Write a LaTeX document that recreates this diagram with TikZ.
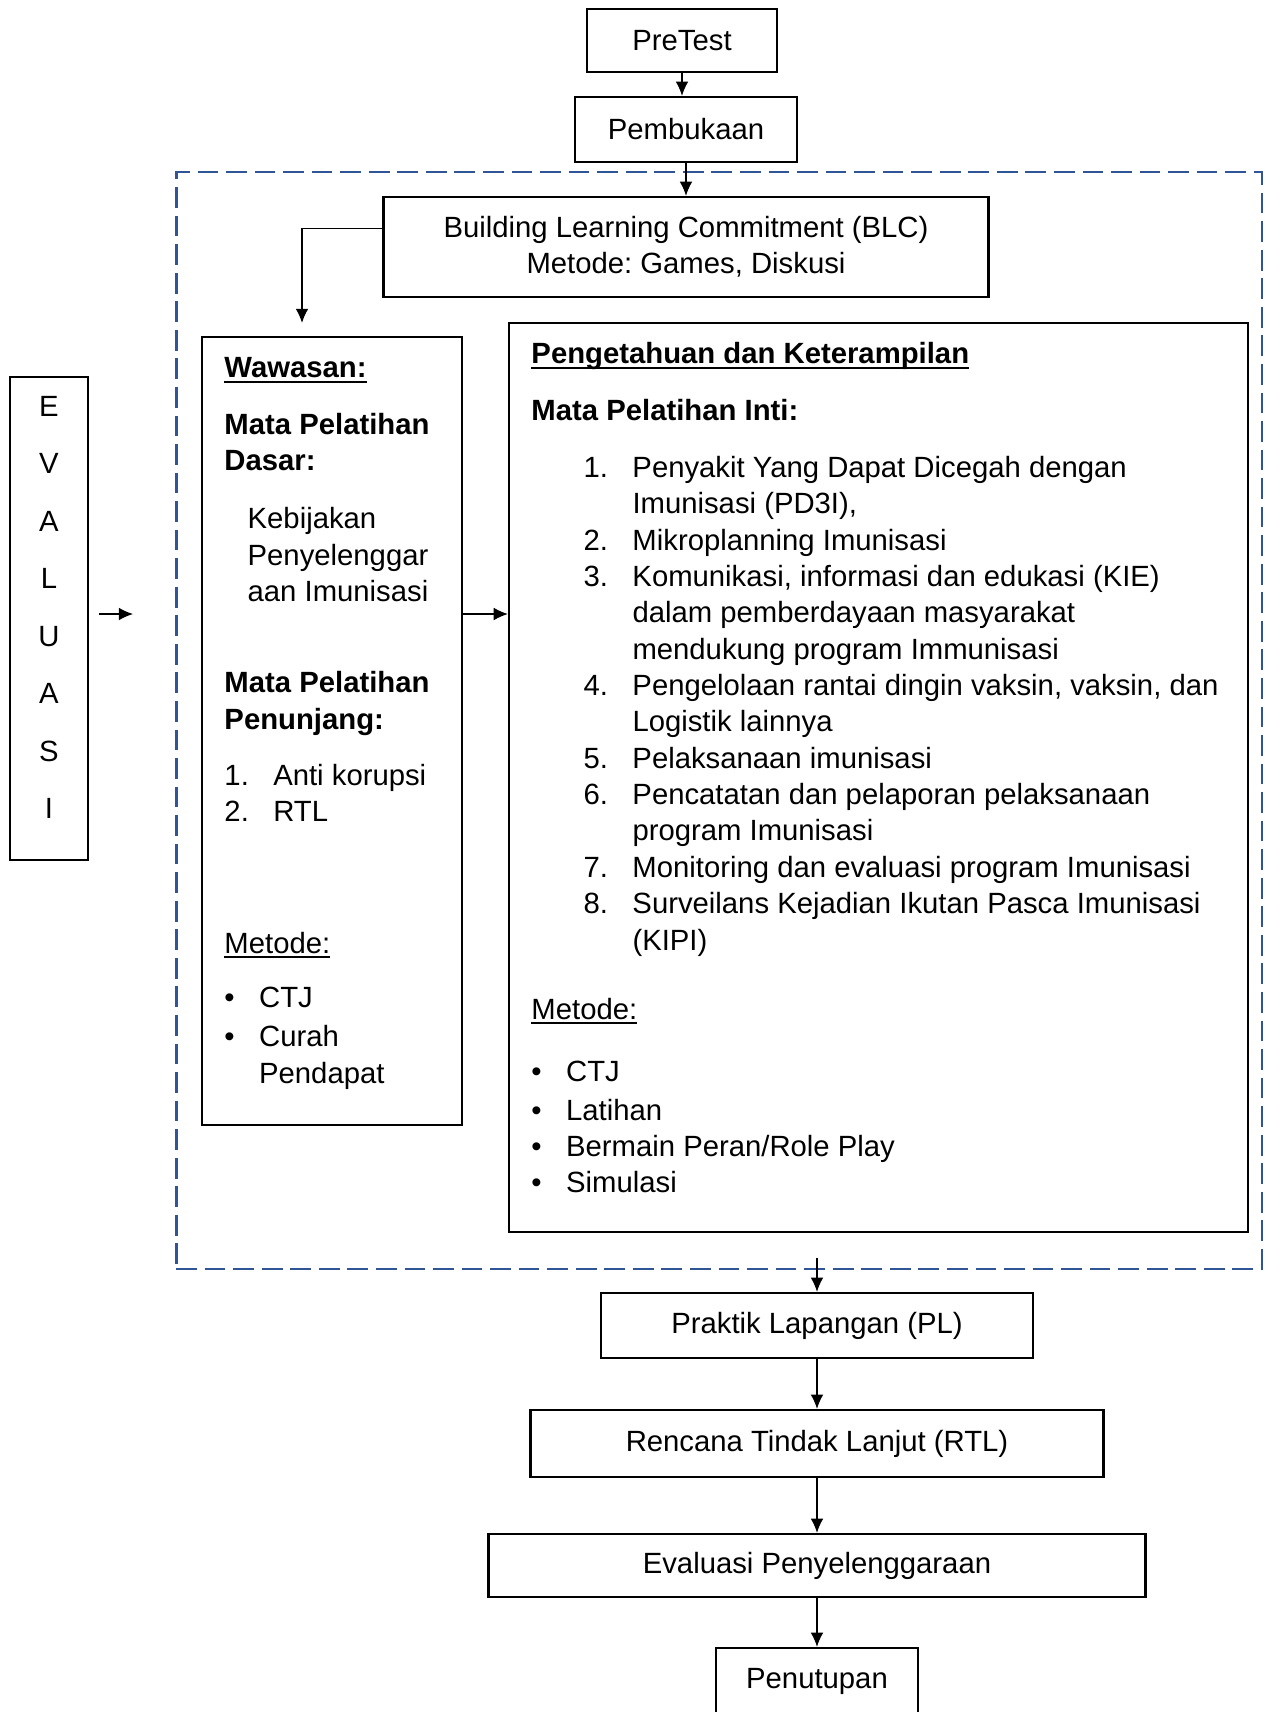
\documentclass[tikz,border=0pt]{standalone}
\usepackage{fontspec}
\setmainfont{Liberation Sans}
\usetikzlibrary{arrows.meta}
\frenchspacing

\definecolor{frameblue}{RGB}{47,85,151}
\newsavebox{\ulbox}
\newcommand{\uln}[1]{\sbox\ulbox{#1}\rlap{\rule[-2pt]{\wd\ulbox}{0.8pt}}\usebox\ulbox}
\newcommand{\itemnum}[1]{\makebox[20pt][l]{#1}}
\newcommand{\itembul}{\makebox[14.2pt][l]{\textbullet}}

\begin{document}
\begin{tikzpicture}[x=0.0144cm, y=-0.0144cm,
  every node/.style={font=\fontsize{12}{14.9}\selectfont, inner sep=0pt},
  box/.style={draw, line width=1pt},
  arr/.style={-{Latex[length=5.8pt, width=5.2pt]}, line width=0.5pt},
  dashframe/.style={draw=frameblue, line width=1.1pt, dash pattern=on 8.5pt off 3.2pt}]
  \useasboundingbox (0, 0) rectangle (1264, 1712);

  \node[box, minimum width=2.736cm, minimum height=0.907cm]
    (PreTest) at (682, 40.5) {PreTest};

  \node[box, minimum width=3.197cm, minimum height=0.936cm]
    (Buka) at (686, 129.5) {Pembukaan};

  \node[dashframe, minimum width=15.638cm, minimum height=15.797cm]
    (Frame) at (719, 720.5) {};

  \node[box, minimum width=8.712cm, minimum height=1.44cm, align=center]
    (BLC) at (686, 247)
    {Building Learning Commitment (BLC)\\
    Metode: Games, Diskusi};

  \node[box, minimum width=1.123cm, minimum height=6.955cm]
    (Evl) at (49, 618.5) {};

  \node[align=center, font=\fontsize{12}{23.55}\selectfont]
    (EvlText) at (49, 607.5)
    {E\\V\\A\\L\\U\\A\\S\\I};

  \node[box, minimum width=3.744cm, minimum height=11.347cm]
    (Waw) at (332, 731) {};

  \node[anchor=north west, align=left]
    (WawText) at (224, 357)
    {\uln{\textbf{Wawasan:}}\\[8.2pt]
    \textbf{Mata Pelatihan}\\
    \textbf{Dasar:}\\[9pt]
    \hspace*{9.5pt}Kebijakan\\
    \hspace*{9.5pt}Penyelenggar\\
    \hspace*{9.5pt}aan Imunisasi\\[22.6pt]
    \textbf{Mata Pelatihan}\\
    \textbf{Penunjang:}\\[8.2pt]
    \itemnum{1.}Anti korupsi\\
    \itemnum{2.}RTL\\[39pt]
    \uln{Metode:}\\[7.4pt]
    \itembul CTJ\\[1pt]
    \itembul Curah\\
    \hspace*{14.2pt}Pendapat};

  \node[box, minimum width=10.642cm, minimum height=13.09cm]
    (Pk) at (878.5, 777.5) {};

  \node[anchor=north west, align=left]
    (PkText) at (531, 342)
    {\uln{\textbf{Pengetahuan dan Keterampilan}}\\[8.2pt]
    \textbf{Mata Pelatihan Inti:}\\[8.6pt]
    \hspace*{21.4pt}\itemnum{1.}Penyakit Yang Dapat Dicegah dengan\\
    \hspace*{41.4pt}Imunisasi (PD3I),\\
    \hspace*{21.4pt}\itemnum{2.}Mikroplanning Imunisasi\\
    \hspace*{21.4pt}\itemnum{3.}Komunikasi, informasi dan edukasi (KIE)\\
    \hspace*{41.4pt}dalam pemberdayaan masyarakat\\
    \hspace*{41.4pt}mendukung program Immunisasi\\
    \hspace*{21.4pt}\itemnum{4.}Pengelolaan rantai dingin vaksin, vaksin, dan\\
    \hspace*{41.4pt}Logistik lainnya\\
    \hspace*{21.4pt}\itemnum{5.}Pelaksanaan imunisasi\\
    \hspace*{21.4pt}\itemnum{6.}Pencatatan dan pelaporan pelaksanaan\\
    \hspace*{41.4pt}program Imunisasi\\
    \hspace*{21.4pt}\itemnum{7.}Monitoring dan evaluasi program Imunisasi\\
    \hspace*{21.4pt}\itemnum{8.}Surveilans Kejadian Ikutan Pasca Imunisasi\\
    \hspace*{41.4pt}(KIPI)\\[13.5pt]
    \uln{Metode:}\\[10.5pt]
    \itembul CTJ\\[1pt]
    \itembul Latihan\\
    \itembul Bermain Peran/Role Play\\
    \itembul Simulasi};

  \node[box, minimum width=6.221cm, minimum height=0.936cm]
    (PL) at (817, 1325.5) {Praktik Lapangan (PL)};

  \node[box, minimum width=8.251cm, minimum height=0.965cm]
    (RTL) at (817, 1443.5) {Rencana Tindak Lanjut (RTL)};

  \node[box, minimum width=9.461cm, minimum height=0.907cm]
    (EvalP) at (817, 1565.5) {Evaluasi Penyelenggaraan};

  \node[box, minimum width=2.909cm, minimum height=0.95cm]
    (Tutup) at (817, 1681) {Penutupan};

  \coordinate (EvlTip) at (133, 614);

  \draw[arr] (PreTest.south) -- (PreTest.south |- Buka.north);
  \draw[arr] (Buka.south) -- (BLC.north);
  \draw[arr] ([yshift=-0.475cm]BLC.north west) -| ([xshift=-0.432cm, yshift=0.187cm]Waw.north);
  \draw[arr] ([xshift=0.144cm]Evl.east |- EvlTip) -- (EvlTip);
  \draw[arr] (Waw.east |- EvlTip) -- (Pk.west |- EvlTip);
  \draw[arr] ([yshift=0.173cm]Frame.south -| PL.north) -- (PL.north);
  \draw[arr] (PL.south) -- (RTL.north);
  \draw[arr] (RTL.south) -- (EvalP.north);
  \draw[arr] (EvalP.south) -- (Tutup.north);

\end{tikzpicture}
\end{document}
